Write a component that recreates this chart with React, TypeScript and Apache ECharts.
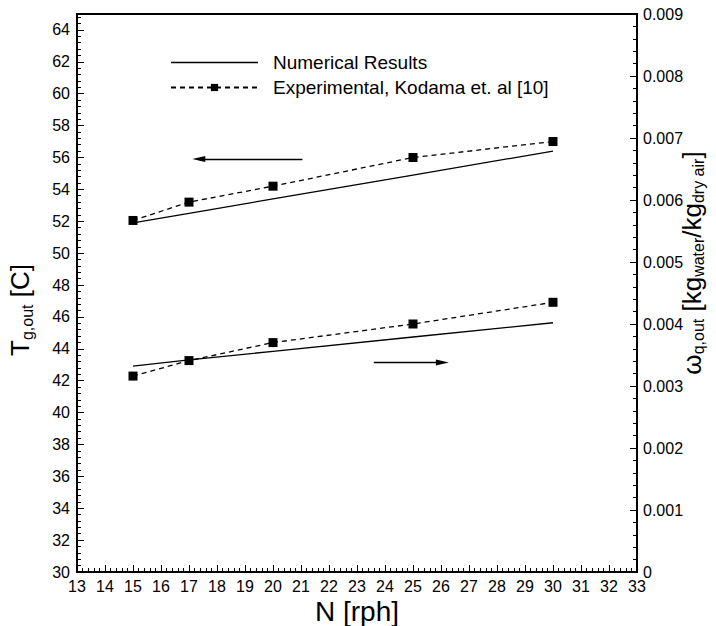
import React, { useEffect, useRef } from "react";
import * as echarts from "echarts";

const nValues = [15, 17, 20, 25, 30];
const tempNumerical = [51.9, 52.5, 53.4, 54.9, 56.4];
const tempExperimental = [52.05, 53.2, 54.2, 56.0, 57.0];
const humNumerical = [0.00332, 0.00342, 0.00356, 0.00379, 0.00402];
const humExperimental = [0.00316, 0.00341, 0.0037, 0.004, 0.00435];
const legendNames = ["Numerical Results", "Experimental, Kodama et. al [10]"];
const tempArrow = [[21.05, 55.9], [17.35, 55.9]];
const humArrow = [[23.6, 0.00338], [26.05, 0.00338]];

const FONT = "'Liberation Sans', Arial, Helvetica, sans-serif";

const pairs = (xs: number[], ys: number[]) => xs.map((x, i) => [x, ys[i]]);

export default function App() {
  const ref = useRef<HTMLDivElement>(null);
  useEffect(() => {
    if (!ref.current) return;
    const chart = echarts.init(ref.current, undefined, { renderer: "svg" });
    const axisCommon = {
      axisLine: { show: true, lineStyle: { color: "#000", width: 2 } },
      axisTick: { show: true, inside: true, length: 7, lineStyle: { color: "#000", width: 1 } },
      minorTick: { show: true, splitNumber: 5, length: 4, lineStyle: { color: "#000", width: 1 } },
      splitLine: { show: false },
      axisLabel: { color: "#000", fontSize: 16, fontFamily: FONT },
    };
    const solid = { color: "#000", width: 1.3, type: "solid" as const };
    const dashed = { color: "#000", width: 1.3, type: [5, 4] as any };
    const arrowLine = (pts: number[][]) => ({
      silent: true,
      symbol: ["none", "triangle"],
      symbolSize: [6, 13],
      label: { show: false },
      itemStyle: { color: "#000" },
      lineStyle: { color: "#000", width: 1.3, type: "solid" },
      emphasis: { disabled: true },
      data: [[{ coord: pts[0] }, { coord: pts[1] }]],
    });
    chart.setOption({
      animation: false,
      backgroundColor: "#fff",
      textStyle: { fontFamily: FONT },
      grid: {
        left: 77,
        right: 79,
        top: 14,
        bottom: 54,
        containLabel: false,
        outerBoundsMode: "none",
        show: true,
        borderColor: "#000",
        borderWidth: 2,
        backgroundColor: "transparent",
      },
      legend: {
        orient: "vertical",
        left: 165,
        top: 48,
        itemWidth: 87,
        itemHeight: 9,
        itemGap: 6,
        data: [
          { name: legendNames[0], icon: "path://M0,0 L100,0 L100,1.6 L0,1.6 Z" },
          { name: legendNames[1] },
        ],
        textStyle: { color: "#000", fontSize: 19, fontFamily: FONT, padding: [0, 0, 0, 10] },
        selectedMode: false,
      },
      xAxis: {
        type: "value",
        min: 13,
        max: 33,
        interval: 1,
        ...axisCommon,
        axisLabel: { ...axisCommon.axisLabel, margin: 6 },
        name: "N [rph]",
        nameLocation: "middle",
        nameGap: 25,
        nameMoveOverlap: false,
        nameTextStyle: { color: "#000", fontSize: 28, fontFamily: FONT },
      },
      yAxis: [
        {
          type: "value",
          min: 30,
          max: 65,
          interval: 2,
          position: "left",
          ...axisCommon,
          axisLabel: { ...axisCommon.axisLabel, margin: 7, showMaxLabel: false },
          name: "{b|T}{s|g,out}{b| [C]}",
          nameLocation: "middle",
          nameGap: 42,
          nameMoveOverlap: false,
          nameTextStyle: {
            color: "#000",
            fontFamily: FONT,
            padding: [0, 34, 0, 0],
            rich: {
              b: { fontSize: 26, fontFamily: FONT, color: "#000", lineHeight: 30 },
              s: { fontSize: 16, fontFamily: FONT, color: "#000", verticalAlign: "bottom", lineHeight: 12 },
            },
          },
        },
        {
          type: "value",
          min: 0,
          max: 0.009,
          interval: 0.001,
          position: "right",
          ...axisCommon,
          axisLabel: {
            ...axisCommon.axisLabel,
            margin: 6,
            formatter: (v: number) => (v === 0 ? "0" : v.toFixed(3)),
          },
          name: "{b|ω}{s|q,out}{b| [kg}{s|water}{b|/kg}{s|dry air}{b|]}",
          nameLocation: "middle",
          nameGap: 41,
          nameMoveOverlap: false,
          nameTextStyle: {
            color: "#000",
            fontFamily: FONT,
            padding: [0, 0, 0, 60],
            rich: {
              b: { fontSize: 26, fontFamily: FONT, color: "#000", lineHeight: 28 },
              s: { fontSize: 16, fontFamily: FONT, color: "#000", verticalAlign: "bottom", lineHeight: 12 },
            },
          },
        },
      ],
      series: [
        {
          name: legendNames[0],
          type: "line",
          yAxisIndex: 0,
          data: pairs(nValues, tempNumerical),
          showSymbol: false,
          symbol: "none",
          lineStyle: solid,
          itemStyle: { color: "#000" },
          markLine: arrowLine(tempArrow),
        },
        {
          name: legendNames[1],
          type: "line",
          yAxisIndex: 0,
          data: pairs(nValues, tempExperimental),
          symbol: "rect",
          symbolSize: 9,
          lineStyle: dashed,
          itemStyle: { color: "#000" },
        },
        {
          name: legendNames[0],
          type: "line",
          yAxisIndex: 1,
          data: pairs(nValues, humNumerical),
          showSymbol: false,
          symbol: "none",
          lineStyle: solid,
          itemStyle: { color: "#000" },
          markLine: arrowLine(humArrow),
        },
        {
          name: legendNames[1],
          type: "line",
          yAxisIndex: 1,
          data: pairs(nValues, humExperimental),
          symbol: "rect",
          symbolSize: 9,
          lineStyle: dashed,
          itemStyle: { color: "#000" },
        },
      ],
    });
    return () => chart.dispose();
  }, []);
  return (
    <div
      ref={ref}
      style={{ position: "fixed", left: 0, top: 0, width: 716, height: 626, background: "#fff" }}
    />
  );
}
